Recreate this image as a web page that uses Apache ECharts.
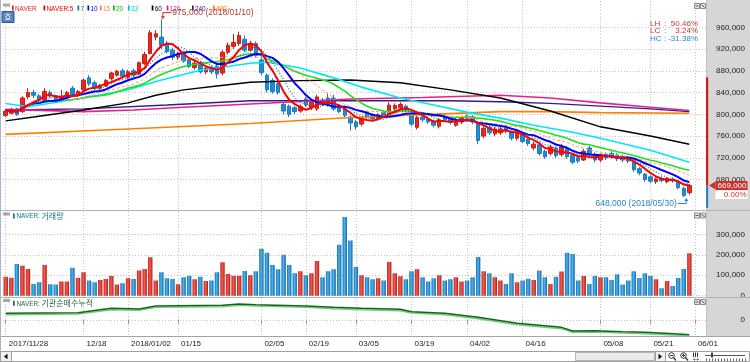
<!DOCTYPE html>
<html><head><meta charset="utf-8">
<script src="https://cdn.jsdelivr.net/npm/echarts@6/dist/echarts.min.js"></script>
<style>html,body{margin:0;padding:0;background:#fff}#c{width:750px;height:362px}</style>
</head><body><div id="c"></div>
<script>
// ---------- data ----------
const dates = ['2017/11/28','2017/11/29','2017/11/30','2017/12/01','2017/12/04','2017/12/05','2017/12/06','2017/12/07','2017/12/08','2017/12/11',
'2017/12/12','2017/12/13','2017/12/14','2017/12/15','2017/12/18','2017/12/19','2017/12/20','2017/12/21','2017/12/22','2017/12/26',
'2017/12/27','2017/12/28','2018/01/02','2018/01/03','2018/01/04','2018/01/05','2018/01/08','2018/01/09','2018/01/10','2018/01/11',
'2018/01/12','2018/01/15','2018/01/16','2018/01/17','2018/01/18','2018/01/19','2018/01/22','2018/01/23','2018/01/24','2018/01/25',
'2018/01/26','2018/01/29','2018/01/30','2018/01/31','2018/02/01','2018/02/02','2018/02/05','2018/02/06','2018/02/07','2018/02/08',
'2018/02/09','2018/02/12','2018/02/13','2018/02/14','2018/02/19','2018/02/20','2018/02/21','2018/02/22','2018/02/23','2018/02/26',
'2018/02/27','2018/02/28','2018/03/02','2018/03/05','2018/03/06','2018/03/07','2018/03/08','2018/03/09','2018/03/12','2018/03/13',
'2018/03/14','2018/03/15','2018/03/16','2018/03/19','2018/03/20','2018/03/21','2018/03/22','2018/03/23','2018/03/26','2018/03/27',
'2018/03/28','2018/03/29','2018/03/30','2018/04/02','2018/04/03','2018/04/04','2018/04/05','2018/04/06','2018/04/09','2018/04/10',
'2018/04/11','2018/04/12','2018/04/13','2018/04/16','2018/04/17','2018/04/18','2018/04/19','2018/04/20','2018/04/23','2018/04/24',
'2018/04/25','2018/04/26','2018/04/27','2018/04/30','2018/05/02','2018/05/03','2018/05/04','2018/05/08','2018/05/09','2018/05/10',
'2018/05/11','2018/05/14','2018/05/15','2018/05/16','2018/05/17','2018/05/18','2018/05/21','2018/05/23','2018/05/24','2018/05/25',
'2018/05/28','2018/05/29','2018/05/30','2018/05/31'];

const tickIdx  = [0,14,22,31,46,54,63,73,83,93,107,116,124];
const tickText = ['2017/11/28','12/18','2018/01/02','01/15','02/05','02/19','03/05','03/19','04/02','04/16','05/08','05/21','06/01'];
const priceTicks = [680000,720000,760000,800000,840000,880000,920000,960000];
const volTicks = [0,100000,200000,300000];
const instTicks = [0];

const open = [798000,802000,810000,805000,832000,840000,834000,826000,840000,834000,
826000,830000,848000,835000,845000,867000,858000,848000,852000,866000,
872000,880000,868000,880000,874000,893000,912000,942000,942000,930000,
918000,905000,912000,900000,886000,895000,878000,886000,888000,876000,
914000,925000,930000,938000,918000,930000,900000,872000,862000,856000,
818000,815000,812000,806000,828000,812000,810000,826000,830000,830000,
812000,810000,795000,786000,782000,802000,798000,792000,803000,800000,
810000,812000,815000,797000,776000,795000,792000,787000,778000,796000,
791000,780000,786000,797000,795000,782000,760000,776000,764000,766000,
775000,768000,756000,764000,754000,738000,744000,732000,728000,738000,
726000,738000,725000,720000,716000,738000,727000,716000,726000,728000,
725000,722000,718000,712000,700000,690000,685000,676000,682000,676000,
681000,676000,664000,656000];
const close = [806000,808000,800000,830000,840000,835000,826000,842000,834000,826000,
832000,840000,835000,842000,863000,856000,848000,853000,862000,876000,
879000,870000,878000,872000,895000,910000,950000,948000,927000,915000,
905000,910000,898000,888000,894000,878000,885000,878000,874000,914000,
927000,932000,945000,918000,930000,908000,877000,845000,842000,840000,
806000,800000,805000,814000,817000,822000,832000,818000,818000,810000,
805000,798000,784000,777000,792000,796000,792000,799000,797000,817000,
816000,818000,808000,782000,794000,790000,786000,780000,790000,790000,
785000,790000,793000,793000,786000,752000,774000,766000,773000,773000,
769000,756000,765000,750000,746000,745000,728000,722000,740000,724000,
740000,722000,712000,714000,732000,728000,716000,724000,720000,722000,
718000,716000,714000,698000,692000,680000,677000,681000,678000,682000,
678000,665000,651000,669000];
const low = [795000,800000,797000,802000,828000,830000,822000,822000,830000,822000,
822000,826000,832000,832000,843000,852000,845000,844000,850000,862000,
869000,866000,865000,868000,872000,890000,910000,936000,920000,912000,
900000,900000,895000,885000,882000,875000,874000,874000,866000,872000,
910000,920000,926000,914000,915000,904000,872000,840000,838000,836000,
800000,795000,800000,803000,814000,808000,806000,815000,814000,806000,
802000,795000,770000,772000,778000,792000,788000,788000,794000,798000,
806000,808000,804000,778000,772000,786000,782000,776000,774000,786000,
781000,777000,782000,789000,782000,745000,756000,762000,760000,762000,
765000,752000,752000,747000,742000,734000,724000,718000,724000,720000,
722000,718000,708000,710000,714000,724000,712000,712000,716000,718000,
714000,712000,710000,694000,688000,676000,673000,672000,675000,673000,
674000,662000,648000,652000];
const high = [810000,812000,812000,833000,848000,845000,838000,848000,844000,836000,
845000,843000,852000,845000,866000,872000,862000,856000,865000,878000,
882000,884000,882000,884000,897000,915000,955000,955000,975000,935000,
922000,915000,916000,904000,898000,898000,890000,890000,892000,918000,
932000,948000,952000,945000,935000,934000,906000,875000,866000,862000,
822000,818000,815000,818000,832000,826000,836000,830000,838000,836000,
816000,814000,798000,790000,795000,806000,802000,802000,806000,822000,
820000,822000,818000,800000,797000,800000,795000,790000,793000,800000,
795000,793000,797000,800000,799000,785000,778000,780000,777000,777000,
778000,770000,768000,767000,757000,749000,747000,735000,744000,741000,
746000,742000,728000,724000,736000,742000,730000,728000,730000,732000,
728000,726000,722000,715000,703000,692000,688000,684000,686000,685000,
684000,679000,667000,672000];
const volume = [93000,88000,155000,147000,131000,57000,66000,150000,56000,55000,
69000,69000,137000,88000,115000,74000,66000,77000,82000,97000,
55000,61000,85000,82000,123000,131000,188000,74000,115000,85000,
82000,56000,90000,98000,80000,93000,72000,74000,115000,164000,
106000,98000,98000,121000,100000,120000,230000,210000,150000,130000,
200000,150000,110000,120000,100000,110000,170000,90000,120000,130000,
250000,385000,270000,140000,100000,90000,80000,85000,75000,165000,
110000,95000,80000,120000,130000,90000,70000,85000,100000,75000,
80000,90000,70000,75000,90000,190000,120000,110000,90000,74000,
57000,110000,66000,74000,83000,77000,123000,90000,57000,93000,
118000,211000,204000,74000,97000,57000,97000,90000,90000,77000,
105000,55000,74000,120000,87000,110000,97000,80000,36000,72000,
47000,87000,131000,208000];

// long moving averages as [dayIndex, price]
const ma33  = [[0,820000],[4,814000],[14,830000],[22,845000],[28,863000],[35,881000],[44,894000],[47,896000],[53,885000],[59,867000],[64,850000],[71,830000],[77,817000],[83,804000],[89,793000],[95,780000],[102,767000],[107,756000],[116,734000],[123,712000]];
const ma60  = [[0,788000],[5,795000],[14,808000],[22,821000],[27,835000],[32,845000],[38,852000],[44,859000],[53,862000],[62,863000],[71,858000],[80,845000],[89,830000],[98,806000],[107,777000],[116,760000],[123,745000]];
const ma120 = [[0,809000],[14,805000],[23,808000],[32,813000],[44,819000],[62,828000],[75,831000],[89,835000],[98,830000],[107,821000],[116,813000],[123,807000]];
const ma240 = [[0,808000],[14,810000],[29,817000],[44,825000],[62,825000],[80,825000],[89,823000],[98,820000],[107,815000],[116,810000],[123,805000]];
const ma480 = [[0,763000],[22,773000],[44,783000],[62,794000],[74,799000],[89,805000],[98,805000],[107,803000],[123,802000]];
// institutional cumulative net buying, [dayIndex, shares]
const inst = [[0,67000],[13,73000],[19,117000],[24,110000],[27,140000],[39,147000],[42,160000],[45,153000],[54,140000],[59,127000],[64,117000],[71,107000],[73,83000],[79,67000],[85,27000],[92,-33000],[100,-73000],[102,-110000],[106,-107000],[111,-117000],[115,-123000],[121,-140000],[123,-147000]];

// ---------- chart ----------
const FONT = "'Liberation Sans', Arial, sans-serif";
const KFONT = "'Noto Sans CJK KR', sans-serif";
const chart = echarts.init(document.getElementById('c'), null, {renderer:'canvas', width:750, height:362});
const N = close.length;
const RED = '#e22a1f', BLUE = '#1f8cd4';

function sma(n){
  return close.map((c,i)=>{ const s=Math.max(0,i-n+1); let t=0; for(let k=s;k<=i;k++) t+=close[k]; return [i, t/(i-s+1)]; });
}
const gridLine = {show:true, lineStyle:{color:'#c2c2c2', type:[1,2], width:1}};
function xAx(g, show){
  return {type:'value', gridIndex:g, min:-0.5, max:126,
    axisLine:{show:false},
    axisTick:{show:show, customValues:tickIdx, length:4, inside:false, lineStyle:{color:'#9a9a9a'}},
    axisLabel:{show:show, customValues:tickIdx, formatter:v=>{const k=tickIdx.indexOf(Math.round(v)); return k<0?'':tickText[k];},
      align:'left', padding:[0,0,0,3], margin:4, color:'#222', fontSize:8, fontFamily:FONT},
    splitLine:gridLine};
}
function yAx(g, mn, mx, ticks){
  return {type:'value', gridIndex:g, position:'right', min:mn, max:mx,
    axisLine:{show:false}, axisTick:{show:false, customValues:ticks},
    axisLabel:{customValues:ticks, formatter:v=>echarts.format.addCommas(v), align:'right', margin:39, color:'#222', fontSize:8, fontFamily:FONT},
    splitLine:gridLine};
}
const volGrad = up => new echarts.graphic.LinearGradient(0,0,1,0, up
  ? [{offset:0,color:'#c4231a'},{offset:0.45,color:'#ef5d52'},{offset:1,color:'#b51b12'}]
  : [{offset:0,color:'#1076b8'},{offset:0.45,color:'#4fb2ec'},{offset:1,color:'#0c66a6'}]);

const maLine = (name, data, color, width, type) => ({name, type:'line', xAxisIndex:0, yAxisIndex:0, data, showSymbol:false, symbol:'none', z:3,
  lineStyle:{color, width, type:type||'solid'}, silent:true});

const option = {
  animation:false, backgroundColor:'#ffffff',
  grid:[
    {left:2.97, top:1.2, width:703.03, height:208.8, outerBoundsMode:'none'},
    {left:2.97, top:212, width:703.03, height:83.7, outerBoundsMode:'none'},
    {left:2.97, top:298, width:703.03, height:38, outerBoundsMode:'none'}
  ],
  xAxis:[xAx(0,false), xAx(1,false), xAx(2,true)],
  yAxis:[yAx(0,624000,1008000,priceTicks), yAx(1,0,410000,volTicks), yAx(2,-160000,220000,instTicks)],
  series:[
    {name:'NAVER', type:'candlestick', xAxisIndex:0, yAxisIndex:0, barWidth:4, z:2,
      data: open.map((o,i)=>[i, o, close[i], low[i], high[i]]),
      itemStyle:{color:RED, color0:BLUE, borderColor:'#d01c12', borderColor0:'#1a7cc2', borderWidth:1}},
    maLine('480', ma480, '#ff8000', 1.6),
    maLine('240', ma240, '#3d1a80', 1.4),
    maLine('120', ma120, '#e8208f', 1.6),
    maLine('60',  ma60,  '#000000', 1.4),
    maLine('33',  ma33,  '#00e8f0', 1.6),
    maLine('20',  sma(20), '#22dd22', 1.6),
    maLine('15',  sma(15), '#ff9a6a', 1, [3,2]),
    maLine('10',  sma(10), '#0000ff', 2),
    maLine('7',   sma(7),  '#008080', 1.2, [1,2]),
    maLine('NAVER:5', sma(5), '#ff0000', 2),
    {name:'거래량', type:'bar', xAxisIndex:1, yAxisIndex:1, barWidth:4.4,
      data: volume.map((v,i)=>({value:[i,v], itemStyle:{color:volGrad(close[i]>=open[i])}}))},
    {name:'기관순매수누적', type:'line', xAxisIndex:2, yAxisIndex:2, data:inst, showSymbol:false, symbol:'none',
      lineStyle:{color:'#0a661a', width:1.4, shadowColor:'#79c879', shadowOffsetY:1.4, shadowBlur:0}}
  ]
};
chart.setOption(option);

// ---------- annotations / decorations ----------
const px = (g, x, y) => chart.convertToPixel({gridIndex:g}, [x, y]);
let hiIdx = 0, loIdx = 0;
high.forEach((h,i)=>{ if(h>high[hiIdx]) hiIdx=i; });
low.forEach((l,i)=>{ if(l<low[loIdx]) loIdx=i; });
const H = high[hiIdx], L = low[loIdx], C = close[N-1];
const pH = px(0, hiIdx, H), pL = px(0, loIdx, L), pC = px(0, N-1, C);
const yRangeTop = px(0, 0, 868000)[1], yBottom = px(0, 0, 628000)[1];
const pct = v => (v*100).toFixed(2) + '%';

const G = [];
const txt = (t, x, y, fill, o) => Object.assign({type:'text', x, y, silent:true, z:50,
  style:Object.assign({text:t, fill, fontSize:8, fontFamily:FONT, verticalAlign:'middle'}, (o&&o.style)||{})}, o&&o.el||{});
// right axis background
G.push({type:'rect', z:-10, silent:true, shape:{x:707, y:0, width:43, height:336}, style:{fill:'#d6d6d6'}});
// panel separators and borders
[210.5, 297.5].forEach(y=>G.push({type:'line', z:20, silent:true, shape:{x1:0,y1:y,x2:750,y2:y}, style:{stroke:'#b2b2b2', lineWidth:1}}));
G.push({type:'line', z:20, silent:true, shape:{x1:0,y1:336.5,x2:750,y2:336.5}, style:{stroke:'#a4a4a4', lineWidth:1}});
G.push({type:'line', z:20, silent:true, shape:{x1:0.5,y1:0,x2:0.5,y2:351}, style:{stroke:'#a9b5c9', lineWidth:1}});
G.push({type:'line', z:20, silent:true, shape:{x1:706.5,y1:0,x2:706.5,y2:336}, style:{stroke:'#c4c4c4', lineWidth:1}});

// panel icons (left gray bar, right mini buttons)
[[3.5],[212.5],[299]].forEach(([y])=>{
  G.push({type:'rect', z:30, silent:true, shape:{x:3, y:y, width:7, height:3}, style:{fill:'#a8a8a8'}});
});
[[3.5],[213],[299.5]].forEach(([y])=>{
  [694.5, 700.5].forEach(x=>G.push({type:'rect', z:30, silent:true, shape:{x, y, width:5, height:5}, style:{fill:'#e6e6e6', stroke:'#8c8c8c', lineWidth:1}}));
  G.push({type:'line', z:31, silent:true, shape:{x1:695.5,y1:y+2.5,x2:698.5,y2:y+2.5}, style:{stroke:'#555'}});
  G.push({type:'line', z:31, silent:true, shape:{x1:701.5,y1:y+1,x2:704.5,y2:y+4}, style:{stroke:'#555'}});
});

// legend of price panel
const legendItems = [
  ['NAVER','#d42a1f',12],['NAVER:5','#e00000',43.5],['7','#008080',77.5],['10','#0000ff',87.5],
  ['15','#ff7f40',100],['20','#00c000',113],['33','#00c4c8',128],['60','#000000',151.7],
  ['120','#e0208f',166.7],['240','#3d1a80',192],['480','#ff8000',213]];
legendItems.forEach(([t,c,x])=>{
  G.push({type:'rect', z:40, silent:true, shape:{x, y:5.5, width:1.7, height:5}, style:{fill:c}});
  G.push(txt(t, x+3, 8.3, c, {el:{scaleX:0.8}}));
});
// 호 button
G.push({type:'rect', z:40, silent:true, shape:{x:2, y:11.5, width:12, height:11}, style:{fill:'#5683ba', stroke:'#2f5b92', lineWidth:1}});
G.push(txt('호', 8, 17.2, '#ffffff', {style:{fontFamily:KFONT, fontSize:8, align:'center'}}));

// volume / institution panel titles
G.push({type:'rect', z:40, silent:true, shape:{x:13, y:213.5, width:1.7, height:5}, style:{fill:'#127a7a'}});
G.push(txt('NAVER:', 16.5, 216, '#127a7a', {el:{scaleX:0.8}}));
G.push(txt('거래량', 41.5, 215.8, '#127a7a', {style:{fontFamily:KFONT}}));
G.push({type:'rect', z:40, silent:true, shape:{x:13, y:300.8, width:1.7, height:5}, style:{fill:'#1f6b3a'}});
G.push(txt('NAVER:', 16.5, 303.3, '#1f6b3a', {el:{scaleX:0.8}}));
G.push(txt('기관순매수누적', 41.5, 303.1, '#1f6b3a', {style:{fontFamily:KFONT}}));

// high / low annotations
const hiText = echarts.format.addCommas(H) + ' (' + dates[hiIdx] + ')';
const loText = echarts.format.addCommas(L) + ' (' + dates[loIdx] + ')';
G.push({type:'polyline', z:45, silent:true, shape:{points:[[pH[0]+1.5,pH[1]-2],[pH[0]+1.5,pH[1]-6.5],[pH[0]+10,pH[1]-6.5]]}, style:{stroke:'#b03a3a', lineWidth:1, fill:null}});
G.push({type:'polygon', z:45, silent:true, shape:{points:[[pH[0]-0.5,pH[1]-3],[pH[0]+3.5,pH[1]-3],[pH[0]+1.5,pH[1]]]}, style:{fill:'#b03a3a'}});
G.push(txt(hiText, pH[0]+11, pH[1]-6.5, '#b03a3a', {style:{fontSize:8.5}}));
G.push({type:'polyline', z:45, silent:true, shape:{points:[[pL[0]-6,pL[1]+6.5],[pL[0]+2.5,pL[1]+6.5],[pL[0]+2.5,pL[1]+2]]}, style:{stroke:'#2a86c6', lineWidth:1, fill:null}});
G.push({type:'polygon', z:45, silent:true, shape:{points:[[pL[0]+0.5,pL[1]+4],[pL[0]+4.5,pL[1]+4],[pL[0]+2.5,pL[1]+1]]}, style:{fill:'#2a86c6'}});
G.push(txt(loText, pL[0]-7, pL[1]+6.7, '#2a86c6', {style:{fontSize:8.5, align:'right'}}));

// LH / LC / HC
[['LH', pct(H/L-1), '#d03434', 23.3], ['LC', pct(C/L-1), '#d03434', 31], ['HC', pct(C/H-1), '#2a86c6', 38.7]].forEach(([k,v,c,y])=>{
  G.push(txt(k, 650, y, c));
  G.push(txt(':', 664, y, c));
  G.push(txt(v, 698, y, c, {style:{align:'right'}}));
});

// current price range bars on the right edge of price panel
G.push({type:'rect', z:25, silent:true, shape:{x:706, y:yRangeTop, width:2.2, height:pC[1]-yRangeTop}, style:{fill:'#c81e1e'}});
G.push({type:'rect', z:25, silent:true, shape:{x:706, y:pC[1], width:2.2, height:yBottom-pC[1]}, style:{fill:'#2a86c6'}});
// current price tag
G.push({type:'polygon', z:60, silent:true, shape:{points:[[709,pC[1]],[715.5,pC[1]-4],[715.5,pC[1]+4]]}, style:{fill:'#c8322d'}});
G.push({type:'rect', z:60, silent:true, shape:{x:715.5, y:pC[1]-4.5, width:32, height:9}, style:{fill:'#c8322d'}});
G.push(txt(echarts.format.addCommas(C), 746.5, pC[1]+0.3, '#ffffff', {style:{align:'right'}, el:{z:61}}));
G.push({type:'rect', z:60, silent:true, shape:{x:715.5, y:pC[1]+5, width:32, height:8.5}, style:{fill:'#ffffff'}});
G.push(txt('0.00%', 746.5, pC[1]+9.3, '#d03434', {style:{align:'right'}, el:{z:61}}));

// bottom scrollbar
G.push({type:'rect', z:30, silent:true, shape:{x:0.5, y:351.5, width:749, height:10}, style:{fill:'#ffffff', stroke:'#a0a0a0', lineWidth:1}});
G.push({type:'rect', z:31, silent:true, shape:{x:0.5, y:351.5, width:11, height:10}, style:{fill:'#f0f0f0', stroke:'#a0a0a0', lineWidth:1}});
G.push({type:'polygon', z:32, silent:true, shape:{points:[[4,356.5],[7.5,353.8],[7.5,359.2]]}, style:{fill:'#000'}});
G.push({type:'rect', z:31, silent:true, shape:{x:575.5, y:352.5, width:79, height:8}, style:{fill:'#ececec', stroke:'#b4b4b4', lineWidth:1}});
G.push({type:'rect', z:31, silent:true, shape:{x:655.5, y:351.5, width:10, height:10}, style:{fill:'#f0f0f0', stroke:'#a0a0a0', lineWidth:1}});
G.push({type:'polygon', z:32, silent:true, shape:{points:[[662,356.5],[658.5,353.8],[658.5,359.2]]}, style:{fill:'#000'}});
[[671.5],[683.5]].forEach(([cx],k)=>{
  G.push({type:'circle', z:32, silent:true, shape:{cx, cy:355.5, r:2.8}, style:{fill:'#fff', stroke:'#333', lineWidth:1}});
  G.push({type:'line', z:32, silent:true, shape:{x1:cx+2,y1:357.5,x2:cx+4.5,y2:360.5}, style:{stroke:'#333', lineWidth:1.2}});
  G.push({type:'line', z:33, silent:true, shape:{x1:cx-1.5,y1:355.5,x2:cx+1.5,y2:355.5}, style:{stroke:'#333'}});
  if(k===1) G.push({type:'line', z:33, silent:true, shape:{x1:cx,y1:354,x2:cx,y2:357}, style:{stroke:'#333'}});
});
[693.5,695.5,697.5].forEach(x=>G.push({type:'line', z:32, silent:true, shape:{x1:x,y1:352.5,x2:x,y2:357}, style:{stroke:'#333'}}));
G.push(txt('++', 692.5, 359.5, '#333', {style:{fontSize:6}}));
G.push({type:'line', z:32, silent:true, shape:{x1:705,y1:355.5,x2:745,y2:355.5}, style:{stroke:'#555'}});
G.push({type:'rect', z:33, silent:true, shape:{x:711, y:352.5, width:2, height:5}, style:{fill:'#444'}});
for(let x=706; x<=745; x+=3) G.push({type:'line', z:32, silent:true, shape:{x1:x+0.5,y1:358.5,x2:x+0.5,y2:361}, style:{stroke:'#666'}});

chart.setOption({graphic: G});
</script></body></html>
